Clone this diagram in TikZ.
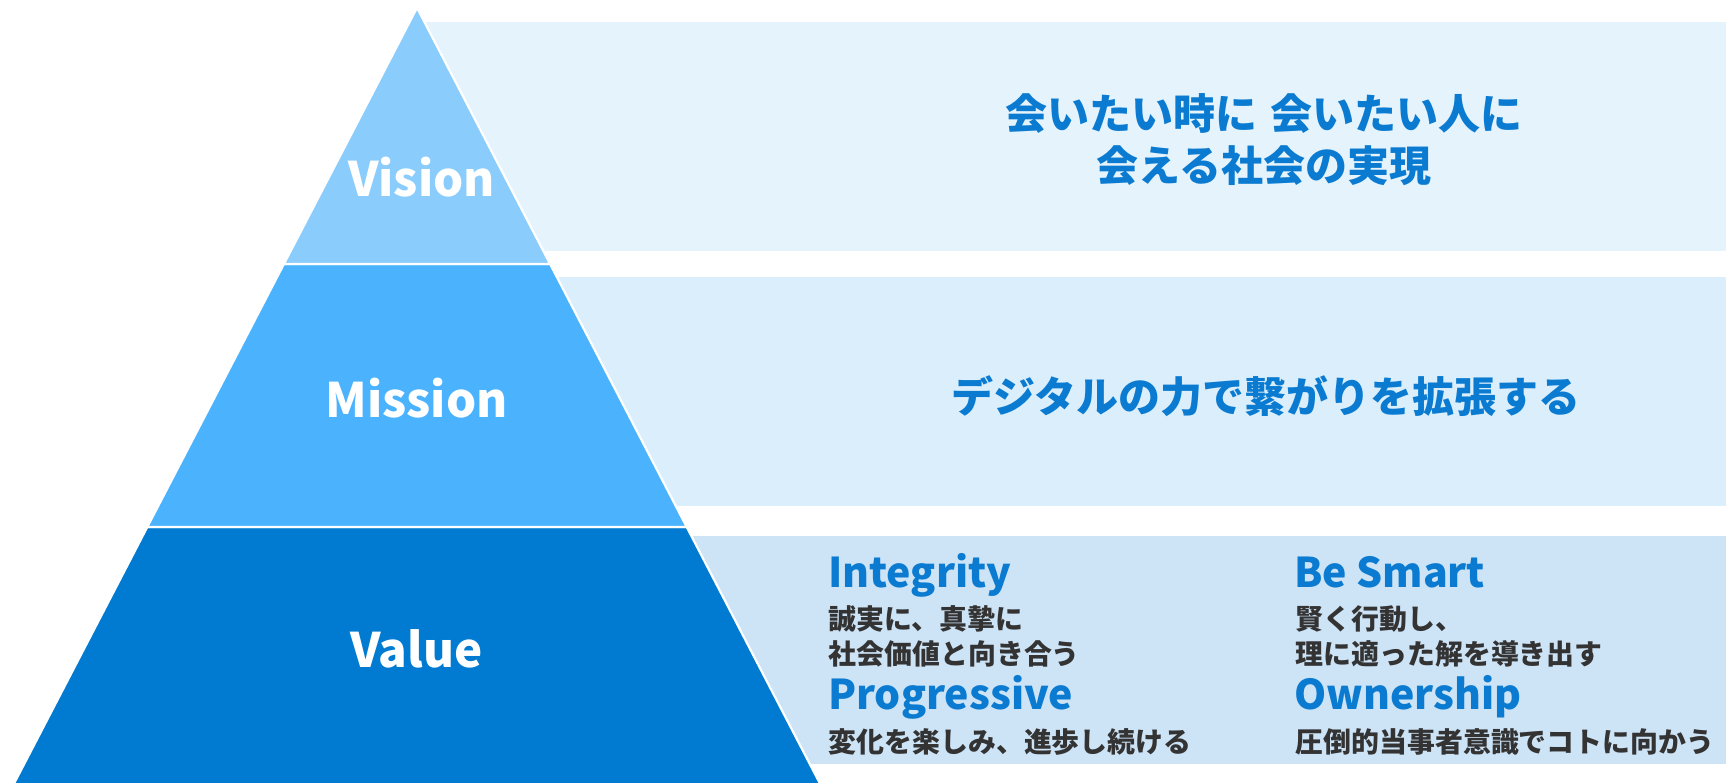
\documentclass[tikz,border=0pt]{standalone}
\usepackage{fontspec}
\setmainfont{Noto Sans CJK JP}
\definecolor{tierVision}{HTML}{8ACDFD}
\definecolor{tierMission}{HTML}{4BB3FD}
\definecolor{tierValue}{HTML}{007BD1}
\definecolor{bandVision}{HTML}{E5F3FD}
\definecolor{bandMission}{HTML}{DAEEFC}
\definecolor{bandValue}{HTML}{CDE3F6}
\definecolor{headBlue}{HTML}{0A7BD0}
\definecolor{bodyDark}{HTML}{333333}
\tikzset{
  tierbox/.style={draw=white, line width=2.2pt, line join=miter},
  tierlabel/.style={anchor=base, inner sep=0pt, text=white, font=\bfseries\fontsize{47.5}{55}\selectfont},
  bigtext/.style={anchor=base, inner sep=0pt, text=headBlue, font=\bfseries\fontsize{42}{50}\selectfont},
  valhead/.style={anchor=base west, inner sep=0pt, text=headBlue, font=\bfseries\fontsize{41}{48}\selectfont},
  valbody/.style={anchor=base west, inner sep=0pt, text=bodyDark, font=\bfseries\fontsize{27.9}{33}\selectfont},
}
\begin{document}
\begin{tikzpicture}[x=1pt,y=-1pt]
\useasboundingbox (0,0) rectangle (1726,783);
% bands
\fill[bandVision] (417,22) rectangle (1726,251);
\fill[bandMission] (417,277) rectangle (1726,506);
\fill[bandValue] (417,536) rectangle (1726,764);
% pyramid tiers
\coordinate (apex) at (417,7.7);
\coordinate (l1) at (283.9,264);
\coordinate (r1) at (550.1,264);
\coordinate (l2) at (147.3,527);
\coordinate (r2) at (686.7,527);
\coordinate (l3) at (10.7,790);
\coordinate (r3) at (823.3,790);
\draw[tierbox, fill=tierValue] (l2) -- (r2) -- (r3) -- (l3) -- cycle;
\draw[tierbox, fill=tierMission] (l1) -- (r1) -- (r2) -- (l2) -- cycle;
\draw[tierbox, fill=tierVision] (apex) -- (r1) -- (l1) -- cycle;
% tier labels
\node[tierlabel] (vision) at (421.5,196.7) {Vision};
\node[tierlabel] (mission) at (416.5,417.3) {Mission};
\node[tierlabel] (value) at (416.5,667.7) {Value};
% vision text
\node[bigtext] (vis1) at (1264,130) {会いたい時に\hspace{0.3em}会いたい人に};
\node[bigtext] (vis2) at (1264,182) {会える社会の実現};
% mission text
\node[bigtext] (mis1) at (1266,412) {デジタルの力で繋がりを拡張する};
% value texts
\node[valhead] (integ) at (828,587) {Integrity};
\node[valbody] (intega) at (828.5,629) {誠実に、真摯に};
\node[valbody] (integb) at (828.5,664) {社会価値と向き合う};
\node[valhead] (progr) at (828,709) {Progressive};
\node[valbody] (progra) at (828.5,752) {変化を楽しみ、進歩し続ける};
\node[valhead] (smart) at (1294,587) {Be Smart};
\node[valbody] (smarta) at (1295.5,629) {賢く行動し、};
\node[valbody] (smartb) at (1295.5,664) {理に適った解を導き出す};
\node[valhead] (owner) at (1294,709) {Ownership};
\node[valbody] (ownera) at (1295.5,752) {圧倒的当事者意識でコトに向かう};
\end{tikzpicture}
\end{document}
